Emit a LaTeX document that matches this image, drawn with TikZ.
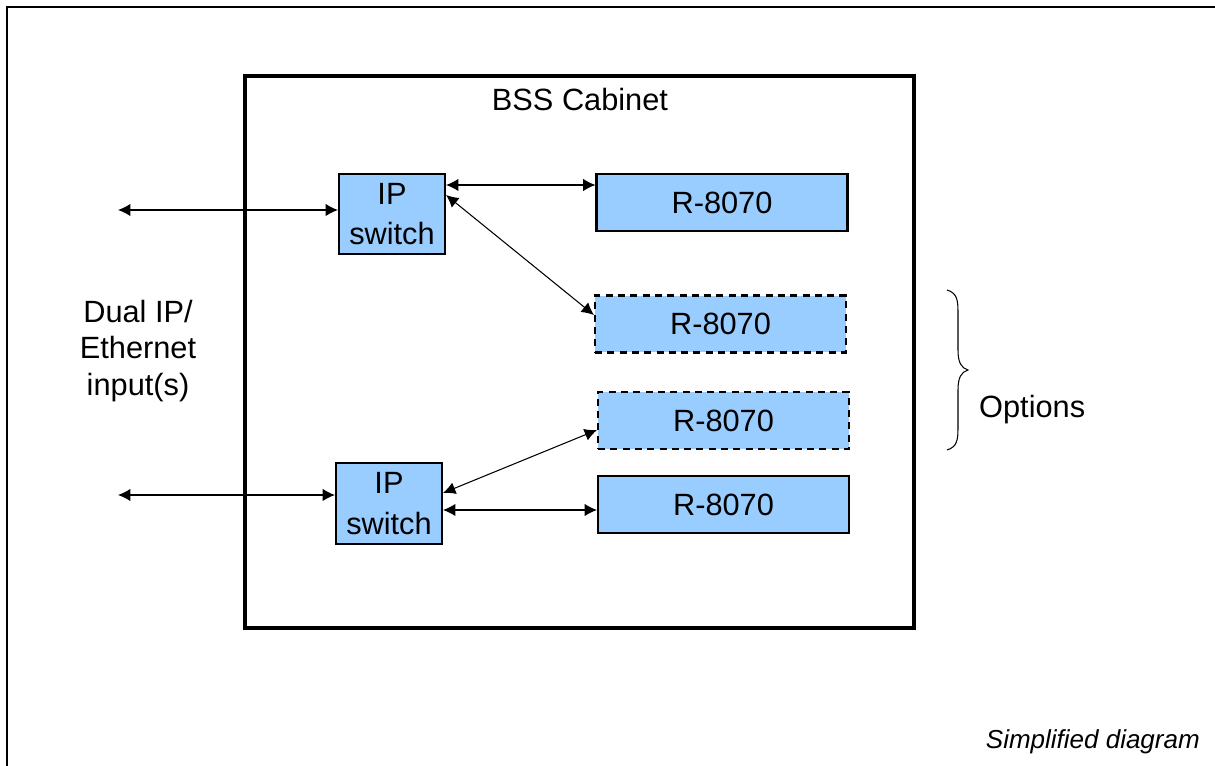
\documentclass[tikz,border=0pt]{standalone}
\usepackage{fontspec}
\setmainfont{Liberation Sans}
\usepackage{tikz}
\usetikzlibrary{arrows.meta,calc,positioning}

\definecolor{boxblue}{RGB}{153,204,255}

\tikzset{
  unit/.style={draw, line width=1.2pt, fill=boxblue, inner sep=0pt,
    font=\fontsize{17.5}{23}\selectfont, align=center},
  switchbox/.style={unit, minimum width=2.12cm, minimum height=1.61cm},
  radiobox/.style={unit, minimum width=5.02cm, minimum height=1.14cm},
  optbox/.style={radiobox, dash pattern=on 4pt off 3pt},
  link/.style={line width=0.6pt, {Latex[length=7pt,width=7pt]}-{Latex[length=7pt,width=7pt]}},
  bigtext/.style={font=\fontsize{17.5}{21}\selectfont, align=center}
}

\begin{document}
\begin{tikzpicture}[x=0.02cm,y=-0.02cm]

\useasboundingbox (0,0) rectangle (1215,766);

% page frame
\draw[line width=0.8pt] (7,766) -- (7,7) -- (1215,7);

% cabinet
\draw[line width=1.8pt] (245,76) rectangle (914,628);
\node[bigtext] (title) at (580,100) {BSS Cabinet};

\node[switchbox] (sw1) at (392,214) {IP\\switch};
\node[switchbox] (sw2) at (389,503.5) {IP\\switch};

\node[radiobox] (r1) at (722,202.5) {R-8070};
\node[optbox] (r2) at (720.5,324) {R-8070};
\node[optbox] (r3) at (723.5,420.5) {R-8070};
\node[radiobox] (r4) at (723.5,504.5) {R-8070};

% inputs
\coordinate (in1) at (118,210);
\coordinate (in2) at (118,495);
\node[bigtext] (dual) at (138,351) {Dual IP/\\Ethernet\\input(s)};

\draw[link] (in1) -- (in1 -| sw1.west);
\draw[link] (in2) -- (in2 -| sw2.west);

\draw[link] (sw1.east |- 0,185) -- (r1.west |- 0,185);
\draw[link] (sw1.east |- 0,195) -- (r2.west |- 0,315);
\draw[link] (sw2.east |- 0,493) -- (r3.west |- 0,430);
\draw[link] (sw2.east |- 0,510) -- (r4.west |- 0,510);

% options brace
\draw[line width=0.6pt] (947,290) .. controls (957,293) and (958,300) .. (958,312)
  -- (958,350) .. controls (958,362) and (961,368) .. (968,370)
  .. controls (961,372) and (958,378) .. (958,390)
  -- (958,428) .. controls (958,440) and (957,447) .. (947,450);
\node[bigtext, anchor=west] (opts) at (973,410) {Options};

\node[font=\fontsize{14.8}{17}\selectfont\itshape, anchor=east] (note) at (1206,742) {Simplified diagram};

\end{tikzpicture}
\end{document}
